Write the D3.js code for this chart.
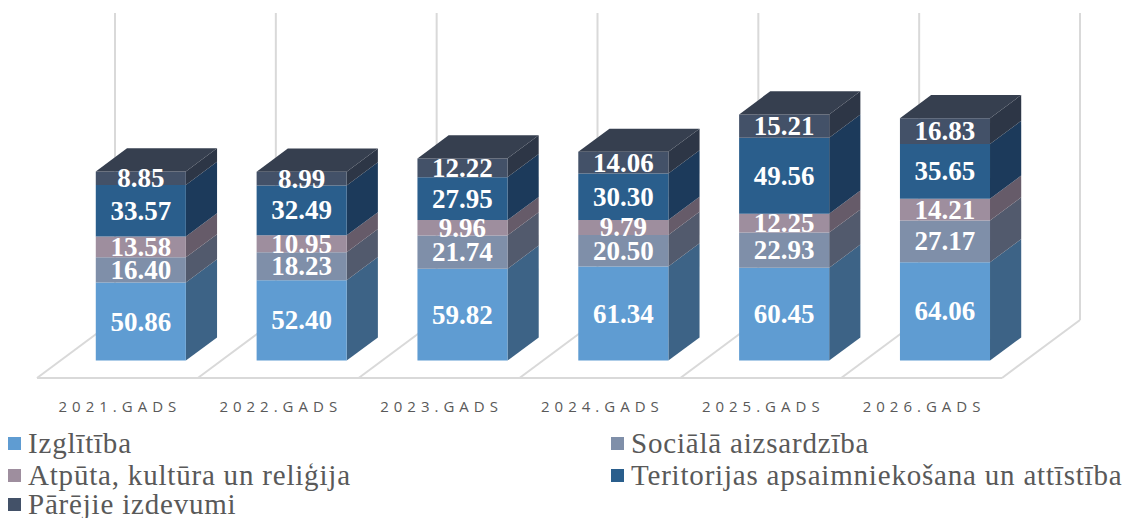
<!DOCTYPE html>
<html>
<head>
<meta charset="utf-8">
<script src="https://cdn.jsdelivr.net/npm/d3@7"></script>
<style>
  html, body { margin: 0; padding: 0; background: #ffffff; }
  svg { display: block; }
</style>
</head>
<body>
<svg id="chart" width="1136" height="518"></svg>
<script>
const categories = ["2021.GADS", "2022.GADS", "2023.GADS", "2024.GADS", "2025.GADS", "2026.GADS"];
const seriesNames = ["Izglītība", "Sociālā aizsardzība", "Atpūta, kultūra un reliģija", "Teritorijas apsaimniekošana un attīstība", "Pārējie izdevumi"];
const izglitiba   = [50.86, 52.40, 59.82, 61.34, 60.45, 64.06];
const socialaAizs = [16.40, 18.23, 21.74, 20.50, 22.93, 27.17];
const atputa      = [13.58, 10.95, 9.96, 9.79, 12.25, 14.21];
const teritorijas = [33.57, 32.49, 27.95, 30.30, 49.56, 35.65];
const parejie     = [8.85, 8.99, 12.22, 14.06, 15.21, 16.83];
const yMax = 200;

const frontColors = ["#5f9cd2", "#7f8fa9", "#9e8e9e", "#2a5e8c", "#435168"];
const sideColors  = ["#3d6386", "#525a6d", "#665b69", "#1c3a5b", "#2d3646"];
const topColor = "#363f4f";

const seriesData = [izglitiba, socialaAizs, atputa, teritorijas, parejie];
const table = categories.map((c, i) => {
  const o = { cat: c };
  seriesNames.forEach((s, k) => o[s] = seriesData[k][i]);
  return o;
});
const stacked = d3.stack().keys(seriesNames)(table);

const svg = d3.select("#chart");
const serif = "'Liberation Serif', Tinos, 'DejaVu Serif', serif";

// 3D geometry
const floorFrontY = 378;
const depth = { dx: 78, dy: -58 };
const zFront = 0.3, zBack = 0.7;
const x = d3.scaleBand().domain(categories).range([37, 1002]).paddingInner(0.44).paddingOuter(0.22);
const h = d3.scaleLinear().domain([0, yMax]).range([0, 307]);
const step = x.step();
const gridX = d3.range(categories.length + 1).map(i => 37 + i * step);

function P(px, v, z) {
  return [px + z * depth.dx, floorFrontY + z * depth.dy - h(v)];
}
const poly = pts => "M" + pts.map(p => p.join(",")).join("L") + "Z";

// grid: back wall verticals and floor diagonals
const grid = svg.append("g").attr("stroke", "#d9d9d9").attr("stroke-width", 2).attr("fill", "none");
gridX.forEach(gx => {
  const b = P(gx, 0, 1), t = P(gx, yMax, 1), f = P(gx, 0, 0);
  grid.append("line").attr("x1", b[0]).attr("y1", b[1]).attr("x2", t[0]).attr("y2", t[1]);
  grid.append("line").attr("x1", f[0]).attr("y1", f[1]).attr("x2", b[0]).attr("y2", b[1]);
});
{
  const a = P(gridX[0], 0, 0), b = P(gridX[gridX.length - 1], 0, 0);
  grid.append("line").attr("x1", a[0]).attr("y1", a[1]).attr("x2", b[0]).attr("y2", b[1]);
}

// bars
const bars = svg.append("g");
categories.forEach((c, i) => {
  const x0 = x(c), x1 = x(c) + x.bandwidth();
  const g = bars.append("g");
  stacked.forEach((layer, k) => {
    const [v0, v1] = layer[i];
    g.append("path")
      .attr("d", poly([P(x1, v0, zFront), P(x1, v0, zBack), P(x1, v1, zBack), P(x1, v1, zFront)]))
      .attr("fill", sideColors[k]);
    g.append("path")
      .attr("d", poly([P(x0, v0, zFront), P(x1, v0, zFront), P(x1, v1, zFront), P(x0, v1, zFront)]))
      .attr("fill", frontColors[k]);
    if (k === stacked.length - 1) {
      g.append("path")
        .attr("d", poly([P(x0, v1, zFront), P(x1, v1, zFront), P(x1, v1, zBack), P(x0, v1, zBack)]))
        .attr("fill", topColor);
    }
  });
  stacked.forEach((layer, k) => {
    const [v0, v1] = layer[i];
    const p = P((x0 + x1) / 2, (v0 + v1) / 2, zFront);
    g.append("text")
      .attr("x", p[0]).attr("y", p[1])
      .attr("text-anchor", "middle")
      .attr("dominant-baseline", "central")
      .attr("font-family", serif)
      .attr("font-weight", "bold")
      .attr("font-size", 27)
      .attr("fill", "#ffffff")
      .text(seriesData[k][i].toFixed(2));
  });
});

// category labels
svg.append("g").selectAll("text").data(categories).join("text")
  .attr("x", d => x(d) + x.bandwidth() / 2 + 2.5)
  .attr("y", 412)
  .attr("text-anchor", "middle")
  .attr("font-family", "'Open Sans', sans-serif")
  .attr("font-size", 15)
  .attr("letter-spacing", 5)
  .attr("fill", "#595959")
  .text(d => d);

// legend
const legendPos = [[8, 453], [611, 453], [8, 485], [611, 485], [8, 514]];
const lg = svg.append("g");
seriesNames.forEach((s, k) => {
  const [lx, ly] = legendPos[k];
  lg.append("rect").attr("x", lx).attr("y", ly - 16).attr("width", 13).attr("height", 13).attr("fill", frontColors[k]);
  lg.append("text").attr("x", lx + 20).attr("y", ly)
    .attr("font-family", serif)
    .attr("font-size", 29)
    .attr("letter-spacing", 0.8)
    .attr("fill", "#595959")
    .text(s);
});
</script>
</body>
</html>
